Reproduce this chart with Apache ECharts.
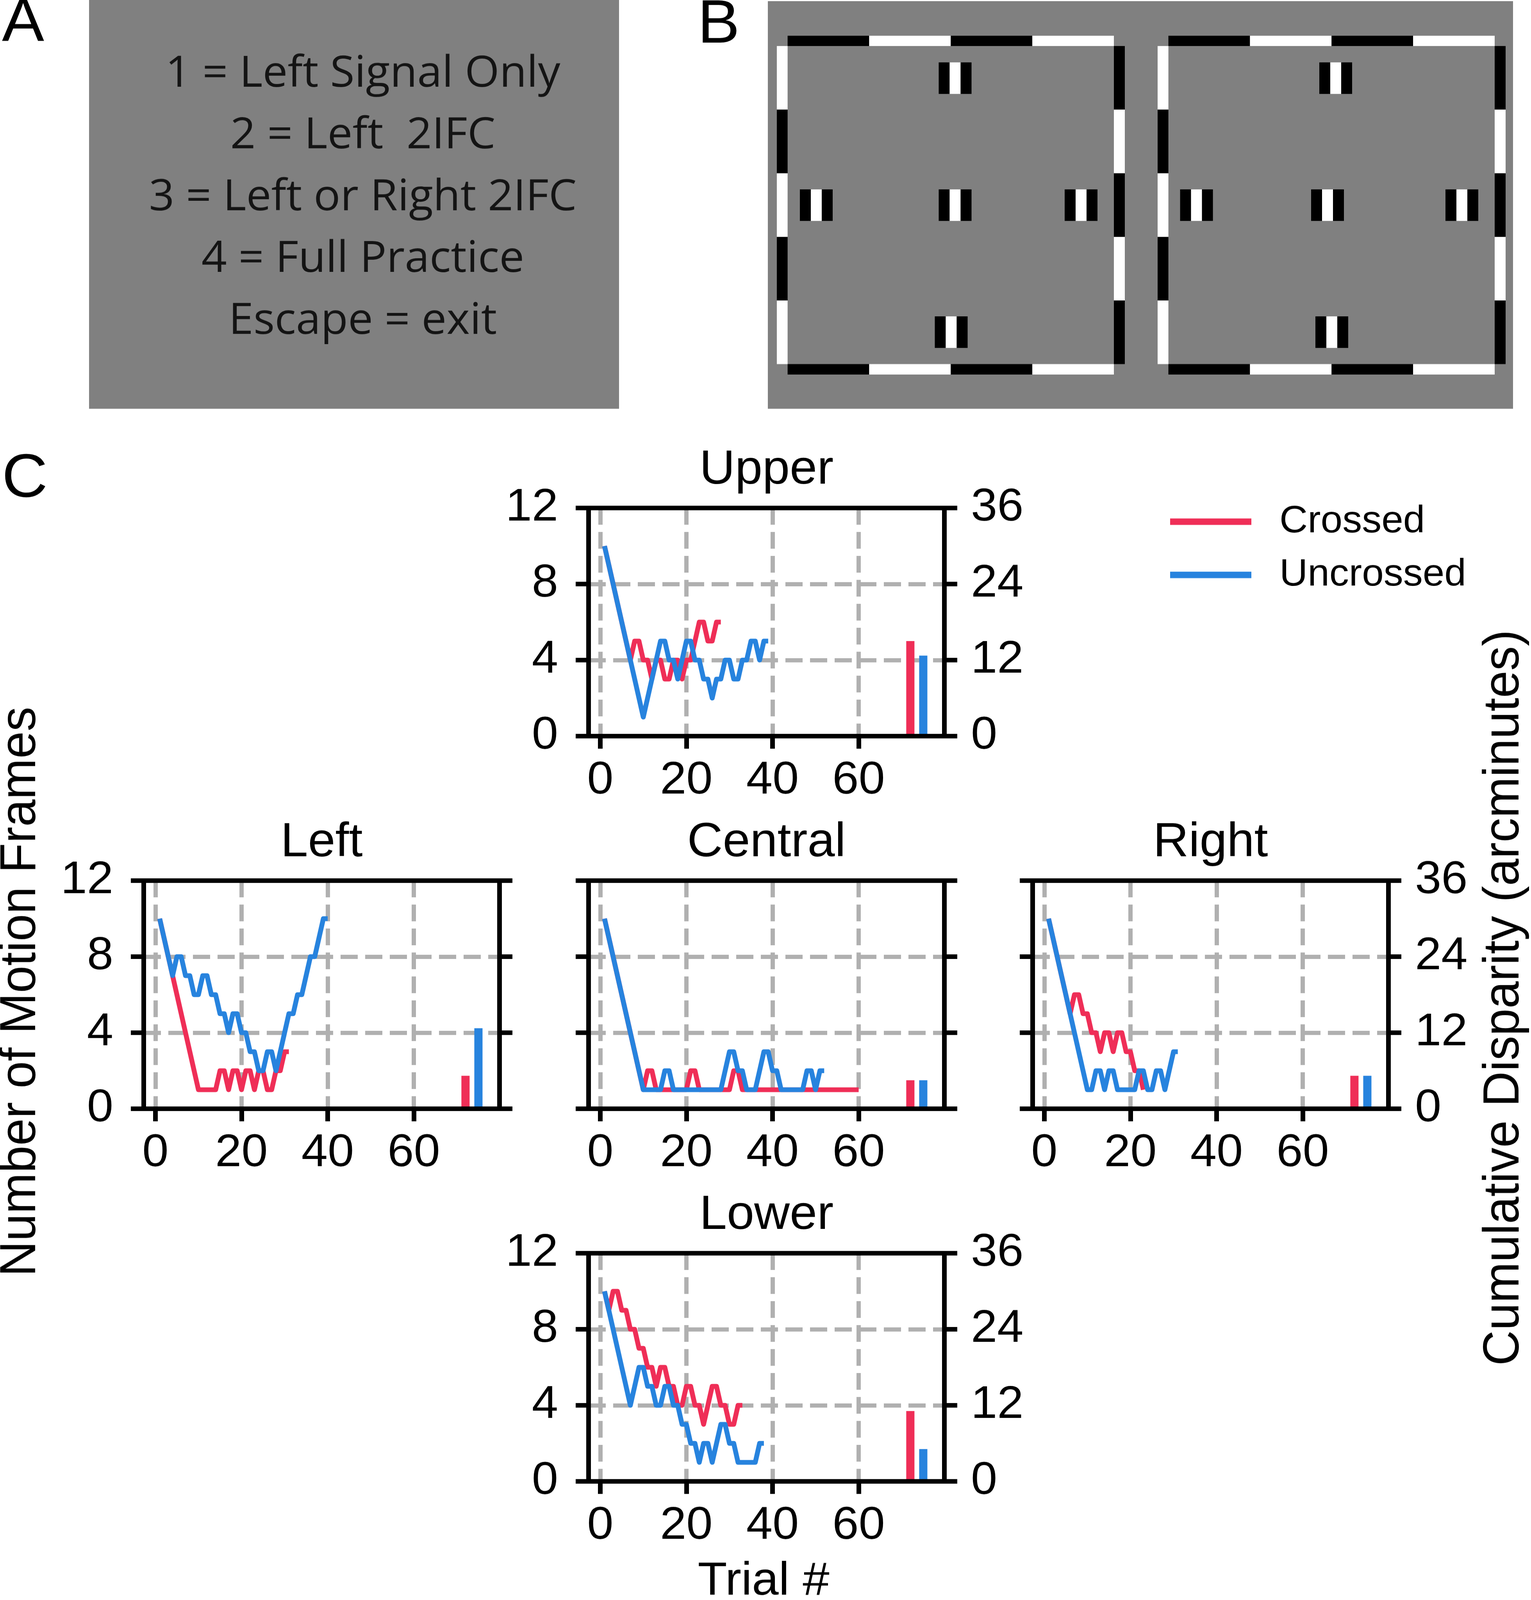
<!DOCTYPE html>
<html><head><meta charset="utf-8">
<script src="https://cdn.jsdelivr.net/npm/echarts@6/dist/echarts.min.js"></script>
<style>html,body{margin:0;padding:0;overflow:hidden;background:#fff}#c{width:3920px;height:4208px;transform-origin:0 0}</style>
</head><body><div id="c"></div><script>
// ---------------- data ----------------
const panelNames = ['Upper', 'Left', 'Central', 'Right', 'Lower'];
const seriesNames = ['Crossed', 'Uncrossed'];
const xTickValues = [0, 20, 40, 60];
const yTicksFrames = [0, 4, 8, 12];
const yTicksArcmin = [0, 12, 24, 36];
const barTrial = [72, 75];

const upperCrossed = [10,9,8,7,6,5,4,5,5,4,4,3,4,4,3,3,4,4,3,4,4,5,6,6,5,5,6,6];
const upperUncrossed = [10,9,8,7,6,5,4,3,2,1,2,3,4,5,5,4,4,3,4,5,5,4,4,3,3,2,3,3,4,4,3,3,4,4,5,5,4,5,5];
const leftCrossed = [10,9,8,7,6,5,4,3,2,1,1,1,1,1,2,2,1,2,2,1,2,2,1,2,2,1,1,2,2,3,3];
const leftUncrossed = [10,9,8,7,8,8,7,7,6,6,7,7,6,6,5,5,4,5,5,4,4,3,3,2,2,3,3,2,3,4,5,5,6,6,7,8,8,9,10,10];
const centralCrossed = [10,9,8,7,6,5,4,3,2,1,2,2,1,1,1,1,1,1,1,1,2,2,1,1,1,1,1,1,1,1,2,2,
  1,1,1,1,1,1,1,1,1,1,1,1,1,1,1,1,1,1,1,1,1,1,1,1,1,1,1,1];
const centralUncrossed = [10,9,8,7,6,5,4,3,2,1,1,1,1,1,2,2,1,1,1,1,1,1,1,1,1,1,1,1,2,3,3,2,2,1,1,1,2,3,3,2,2,1,1,1,1,1,1,2,2,1,2,2];
const rightCrossed = [10,9,8,7,6,5,6,6,5,5,4,4,3,4,4,3,4,4,3,3,2,2,1];
const rightUncrossed = [10,9,8,7,6,5,4,3,2,1,1,2,2,1,2,2,1,1,1,1,1,2,2,1,1,2,2,1,2,3,3];
const lowerCrossed = [10,9,10,10,9,9,8,8,7,7,6,6,5,6,6,5,5,4,4,5,5,4,4,3,4,5,5,4,4,3,3,4,4];
const lowerUncrossed = [10,9,8,7,6,5,4,5,6,6,5,5,4,4,5,5,4,4,3,3,2,2,1,2,2,1,2,3,3,2,2,1,1,1,1,1,2,2];

// cumulative disparity (arcmin) bars, order = panelNames
const crossedBar = [15, 5.2, 4.5, 5.2, 11.1];
const uncrossedBar = [12.7, 12.7, 4.5, 5.2, 5.1];

const menuLines = ['1 = Left Signal Only', '2 = Left  2IFC', '3 = Left or Right 2IFC', '4 = Full Practice', 'Escape = exit'];
const panelLetters = ['A', 'B', 'C'];
const xLabelText = 'Trial #';
const yLeftText = 'Number of Motion Frames';
const yRightText = 'Cumulative Disparity (arcminutes)';

const crossedSeries = [upperCrossed, leftCrossed, centralCrossed, rightCrossed, lowerCrossed];
const uncrossedSeries = [upperUncrossed, leftUncrossed, centralUncrossed, rightUncrossed, lowerUncrossed];

// ---------------- fit the 3920x4208 design into the actual viewport ----------------
const DESIGN_W = 3920, DESIGN_H = 4208;
const fitSx = Math.min(1, (window.innerWidth || DESIGN_W) / DESIGN_W);
const fitSy = Math.min(1, (window.innerHeight || DESIGN_H) / DESIGN_H);
document.getElementById('c').style.transform = `scale(${fitSx},${fitSy})`;

// ---------------- layout / style ----------------
const RED = '#EF2E57', BLUE = '#2783DE', GRID_C = '#b0b0b0';
const FONT = "'Liberation Sans', Arial, Helvetica, sans-serif";
const GW = 911, GH = 600;
const gridPos = [[1507, 1336], [368, 2316], [1507, 2316], [2644, 2316], [1507, 3296]];
const leftLabelsOn = [true, true, false, false, true];
const rightLabelsOn = [true, false, false, true, true];
const XMIN = -2.7, XMAX = 79.9;
const TICK_FS = 121;

const grids = [], xAxes = [], yAxes = [], series = [];
panelNames.forEach((name, i) => {
  const [gl, gt] = gridPos[i];
  grids.push({left: gl, top: gt, width: GW, height: GH, containLabel: false});
  const spine = {show: true, onZero: false, lineStyle: {color: '#000', width: 12, cap: 'square'}};
  const tick = {show: true, inside: false, length: 33, lineStyle: {color: '#000', width: 12}};
  const lbl = {show: true, color: '#000', fontSize: TICK_FS, fontFamily: FONT};
  // gridline x axis
  xAxes.push({gridIndex: i, type: 'value', min: XMIN, max: XMAX, position: 'bottom', z: 0,
    axisLine: {show: false}, axisTick: {show: false, customValues: xTickValues},
    axisLabel: {show: false, customValues: xTickValues},
    splitLine: {show: true, lineStyle: {color: GRID_C, width: 11, type: [44, 19]}}});
  // main x axis
  xAxes.push({gridIndex: i, type: 'value', min: XMIN, max: XMAX, position: 'bottom', z: 5,
    axisLine: spine, axisTick: Object.assign({}, tick, {customValues: xTickValues}),
    axisLabel: Object.assign({}, lbl, {margin: 57, customValues: xTickValues}),
    splitLine: {show: false}});
  // top spine
  xAxes.push({gridIndex: i, type: 'value', min: XMIN, max: XMAX, position: 'top', z: 5,
    axisLine: spine, axisTick: {show: false}, axisLabel: {show: false}, splitLine: {show: false}});
  // gridline y axis
  yAxes.push({gridIndex: i, type: 'value', min: 0, max: 12, interval: 4, position: 'left', z: 0,
    axisLine: {show: false}, axisTick: {show: false}, axisLabel: {show: false},
    splitLine: {show: true, lineStyle: {color: GRID_C, width: 11, type: [44, 19]}}});
  // left y axis (frames)
  yAxes.push({gridIndex: i, type: 'value', min: yTicksFrames[0], max: yTicksFrames[yTicksFrames.length - 1],
    interval: yTicksFrames[1] - yTicksFrames[0], position: 'left', z: 5,
    axisLine: spine, axisTick: tick,
    axisLabel: Object.assign({}, lbl, {show: leftLabelsOn[i], margin: 78}),
    splitLine: {show: false}});
  // right y axis (arcmin)
  yAxes.push({gridIndex: i, type: 'value', min: yTicksArcmin[0], max: yTicksArcmin[yTicksArcmin.length - 1],
    interval: yTicksArcmin[1] - yTicksArcmin[0], position: 'right', z: 5,
    axisLine: spine, axisTick: tick,
    axisLabel: Object.assign({}, lbl, {show: rightLabelsOn[i], margin: 68}),
    splitLine: {show: false}});

  series.push({type: 'bar', name: 'bars-' + name, xAxisIndex: 3 * i + 1, yAxisIndex: 3 * i + 2,
    barWidth: 21, z: 2,
    data: [
      {value: [barTrial[0], crossedBar[i]], itemStyle: {color: RED}},
      {value: [barTrial[1], uncrossedBar[i]], itemStyle: {color: BLUE}}
    ]});
  [[crossedSeries[i], RED, seriesNames[0]], [uncrossedSeries[i], BLUE, seriesNames[1]]].forEach(([vals, col, nm]) => {
    series.push({type: 'line', name: nm, xAxisIndex: 3 * i + 1, yAxisIndex: 3 * i + 1,
      symbol: 'none', showSymbol: false, z: 3,
      lineStyle: {color: col, width: 12.5, join: 'round', cap: 'butt'},
      data: vals.map((v, k) => [k + 1, v])});
  });
});

// ---------------- graphics (panels A, B, texts) ----------------
const g = [];
const txt = (x, y, text, o) => Object.assign({type: 'text', x, y, z: 10, style: Object.assign({
  text, fill: '#000', font: `${TICK_FS}px ${FONT}`, align: 'center', verticalAlign: 'middle'}, o || {})});

// panel A
g.push({type: 'rect', shape: {x: 228, y: 0, width: 1357, height: 1075}, style: {fill: '#808080'}});
const menuY = [196, 358, 521, 683, 846];
menuLines.forEach((t, k) => g.push(txt(929, menuY[k], t, {fill: '#141414', font: "114px 'Open Sans', 'Noto Sans', sans-serif"})));

// panel B
g.push({type: 'rect', shape: {x: 1966, y: 3, width: 1908, height: 1072}, style: {fill: '#808080'}});
function segs(x, y, w, h, n, horizontal, firstBlack) {
  for (let k = 0; k < n; k++) {
    const black = (k % 2 === 0) === firstBlack;
    const s = horizontal ? {x: x + k * w / n, y, width: w / n, height: h} : {x, y: y + k * h / n, width: w, height: h / n};
    g.push({type: 'rect', shape: s, style: {fill: black ? '#000' : '#fff'}});
  }
}
function frame(dx) {
  segs(2016.6 + dx, 94, 835.4, 27, 4, true, true);     // top
  segs(2016.6 + dx, 957.6, 835.4, 27.4, 4, true, true); // bottom
  segs(1989 + dx, 121, 27.6, 836.6, 5, false, false);   // left side
  segs(2852 + dx, 121, 28, 836.6, 5, false, true);      // right side
}
frame(0); frame(975);
const markers = [[2403.5,164],[2048,498],[2403.5,498],[2726,498],[2393.5,832],
                 [3378,164],[3021.6,498],[3357,498],[3701,498],[3368,832]];
markers.forEach(([mx, my]) => {
  ['#000', '#fff', '#000'].forEach((c, k) => g.push({type: 'rect', shape: {x: mx + k * 28, y: my, width: 28, height: 83}, style: {fill: c}}));
});

// panel letters
const letterPos = [[5, 63], [1786, 67], [5, 1261]];
panelLetters.forEach((L, k) => g.push(txt(letterPos[k][0], letterPos[k][1], L, {align: 'left', font: `162px ${FONT}`})));

// subplot titles
panelNames.forEach((name, i) => g.push(txt(gridPos[i][0] + GW / 2, gridPos[i][1] - 99, name, {font: `126px ${FONT}`})));

// axis labels
g.push(txt(1955, 4160, xLabelText, {font: `123px ${FONT}`}));
g.push(Object.assign(txt(54, 2608, yLeftText, {font: `129px ${FONT}`}), {rotation: Math.PI / 2}));
g.push(Object.assign(txt(3852, 2624, yRightText, {font: `129px ${FONT}`}), {rotation: Math.PI / 2}));

// legend
[[RED, 1372], [BLUE, 1512]].forEach(([c, y], k) => {
  g.push({type: 'line', shape: {x1: 2996, y1: y, x2: 3204, y2: y}, style: {stroke: c, lineWidth: 17}});
  g.push(txt(3276, y, seriesNames[k], {align: 'left', font: `100px ${FONT}`}));
});

const chart = echarts.init(document.getElementById('c'), null, {renderer: 'canvas', width: DESIGN_W, height: DESIGN_H});
chart.setOption({
  animation: false,
  backgroundColor: '#fff',
  grid: grids, xAxis: xAxes, yAxis: yAxes, series,
  graphic: {elements: g}
});
</script></body></html>
